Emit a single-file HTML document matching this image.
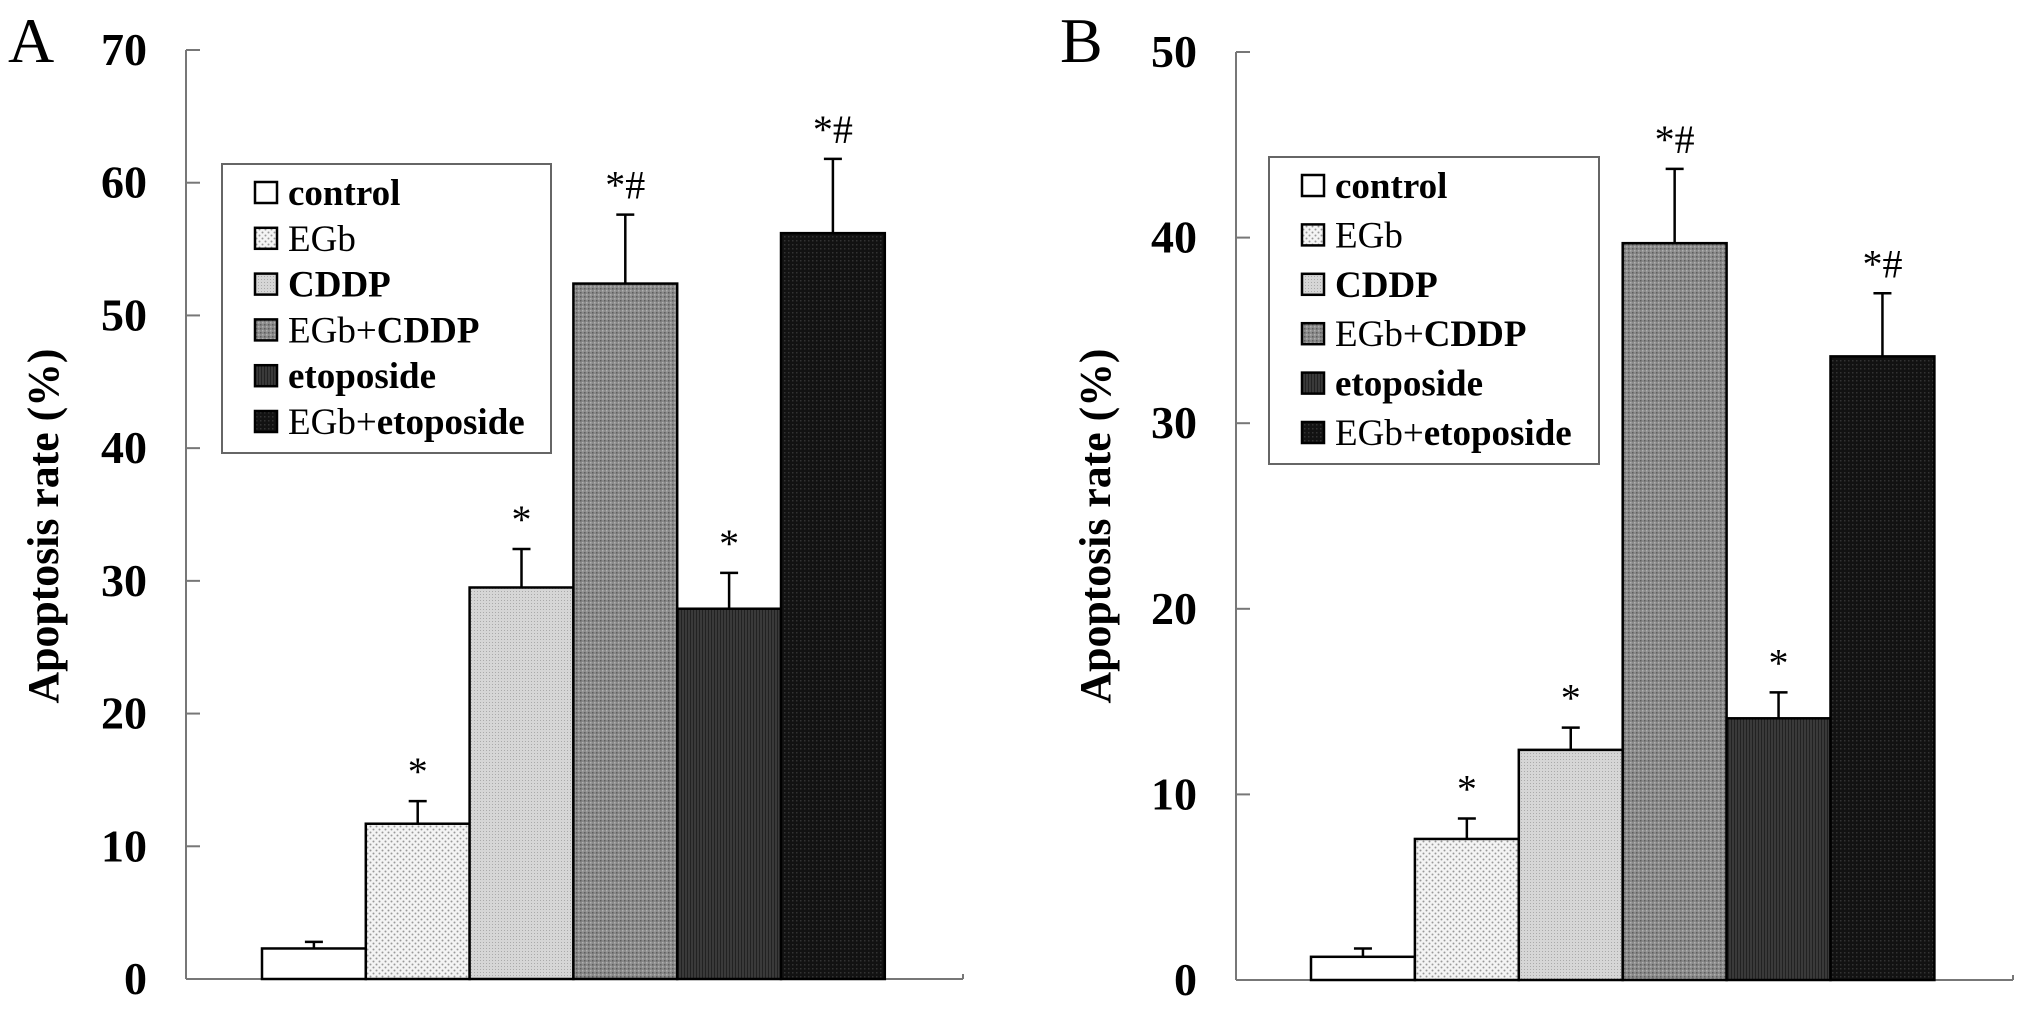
<!DOCTYPE html>
<html><head><meta charset="utf-8">
<style>
html,body{margin:0;padding:0;background:#fff;}
svg{display:block;}
text{font-family:"Liberation Serif",serif;fill:#000;}
</style></head>
<body>
<svg id="fig" width="2031" height="1011" viewBox="0 0 2031 1011" xmlns="http://www.w3.org/2000/svg">
<defs>
<pattern id="p1" width="6" height="6" patternUnits="userSpaceOnUse"><rect width="6" height="6" fill="#f4f4f4"/><circle cx="1.5" cy="1.5" r="1" fill="#999"/><circle cx="4.5" cy="4.5" r="1" fill="#999"/></pattern>
<pattern id="p2" width="3" height="3" patternUnits="userSpaceOnUse"><rect width="3" height="3" fill="#d6d6d6"/><rect width="1" height="1" fill="#aaa"/></pattern>
<pattern id="p3" width="4" height="4" patternUnits="userSpaceOnUse"><rect width="4" height="4" fill="#8a8a8a"/><rect width="1.5" height="1.5" fill="#5e5e5e"/><rect x="2" y="2" width="1.5" height="1.5" fill="#b0b0b0"/></pattern>
<pattern id="p4" width="3" height="3" patternUnits="userSpaceOnUse"><rect width="3" height="3" fill="#3a3a3a"/><rect width="1" height="3" fill="#222"/></pattern>
<pattern id="p5" width="4" height="4" patternUnits="userSpaceOnUse"><rect width="4" height="4" fill="#121212"/><rect width="1.5" height="1.5" fill="#333"/></pattern>
</defs>
<g id="root"></g>
</svg>
<script>
const categories = ["control","EGb","CDDP","EGb+CDDP","etoposide","EGb+etoposide"];
const valuesA = [2.3, 11.7, 29.5, 52.4, 27.9, 56.2];
const errorTopA = [2.8, 13.4, 32.4, 57.6, 30.6, 61.8];
const marksA = ["", "*", "*", "*#", "*", "*#"];
const ticksA = [0,10,20,30,40,50,60,70];
const valuesB = [1.25, 7.6, 12.4, 39.7, 14.1, 33.6];
const errorTopB = [1.7, 8.7, 13.6, 43.7, 15.5, 37.0];
const marksB = ["", "*", "*", "*#", "*", "*#"];
const ticksB = [0,10,20,30,40,50];

const fills = ["#fff","url(#p1)","url(#p2)","url(#p3)","url(#p4)","url(#p5)"];
const NS = "http://www.w3.org/2000/svg";
const root = document.getElementById('root');
function mk(tag, attrs, parent, txt){
  const e = document.createElementNS(NS, tag);
  for (const k in attrs) e.setAttribute(k, attrs[k]);
  if (txt !== undefined) e.textContent = txt;
  (parent||root).appendChild(e);
  return e;
}

function panel(cfg){
  const g = mk('g', {});
  
  
  const y = v => cfg.y0 - (v - 0) / cfg.max * (cfg.y0 - cfg.yTop);
  const x = i => cfg.barX0 + i * cfg.barW;
  const pl = mk('text', {x: cfg.letterX, y: 62, 'font-size': 64}, g, cfg.id);
  
  
  const ya = mk('line', {x1: cfg.axX, y1: y(cfg.max), x2: cfg.axX, y2: cfg.y0, stroke: '#777', 'stroke-width': 2}, g);
  
  
  const xa = mk('line', {x1: cfg.axX, y1: cfg.y0, x2: cfg.axEnd, y2: cfg.y0, stroke: '#777', 'stroke-width': 2}, g);
  
  
  mk('line', {x1: cfg.axEnd, y1: cfg.y0 - 5, x2: cfg.axEnd, y2: cfg.y0, stroke: '#777', 'stroke-width': 2}, g);
  cfg.ticks.forEach(t => {
    const tk = mk('line', {x1: cfg.axX, y1: y(t), x2: cfg.axX + 14, y2: y(t), stroke: '#777', 'stroke-width': 2}, g);
    
    
    const tl = mk('text', {x: cfg.tickRight, y: y(t) + 15, 'font-size': 46, 'font-weight': 'bold', 'text-anchor': 'end'}, g, String(t));
    
    
  });
  const yt = mk('text', {transform: 'translate(' + cfg.titleX + ',526) rotate(-90)', 'font-size': 44, 'font-weight': 'bold', 'text-anchor': 'middle', textLength: 355, lengthAdjust: 'spacingAndGlyphs'}, g, 'Apoptosis rate (%)');
  
  
  cfg.values.forEach((v, i) => {
    const cx = x(i) + cfg.barW / 2;
    const eb = mk('line', {x1: cx, y1: y(v), x2: cx, y2: y(cfg.err[i]), stroke: '#000', 'stroke-width': 2.5}, g);
    
    
    mk('line', {x1: cx - 9, y1: y(cfg.err[i]), x2: cx + 9, y2: y(cfg.err[i]), stroke: '#000', 'stroke-width': 2.5}, g);
    const b = mk('rect', {x: x(i), y: y(v), width: cfg.barW, height: cfg.y0 - y(v), fill: fills[i], stroke: '#000', 'stroke-width': 2.5}, g);
    
    
    if (cfg.marks[i]) {
      const m = mk('text', {x: cx, y: y(cfg.err[i]) - 16, 'font-size': 40, 'text-anchor': 'middle'}, g, cfg.marks[i]);
      
      
    }
  });
  const lg = mk('g', {}, g);
  
  
  mk('rect', {x: cfg.lg[0], y: cfg.lg[1], width: cfg.lg[2] - cfg.lg[0], height: cfg.lg[3] - cfg.lg[1], fill: '#fff', stroke: '#666', 'stroke-width': 2}, lg);
  const rowH = (cfg.lg[3] - cfg.lg[1] - 60) / 5;
  categories.forEach((c, i) => {
    const ry = cfg.lg[1] + 28 + i * rowH;
    const e = mk('g', {}, lg);
    
    
    mk('rect', {x: cfg.lg[0] + 33, y: ry - 10, width: 22, height: 21, fill: fills[i], stroke: '#000', 'stroke-width': 2.5}, e);
    const t = mk('text', {x: cfg.lg[0] + 66, y: ry + 13, 'font-size': 37}, e);
    const parts = {"control": [["control", 1]], "EGb": [["EGb", 0]], "CDDP": [["CDDP", 1]], "EGb+CDDP": [["EGb+", 0], ["CDDP", 1]], "etoposide": [["etoposide", 1]], "EGb+etoposide": [["EGb+", 0], ["etoposide", 1]]}[c];
    parts.forEach(p => mk('tspan', {'font-weight': p[1] ? 'bold' : 'normal'}, t, p[0]));
  });
}

panel({id: 'A', letterX: 8, axX: 186, axEnd: 963, y0: 979, yTop: 50, max: 70, ticks: ticksA, tickRight: 147, titleX: 58,
  barX0: 262, barW: 103.8, values: valuesA, err: errorTopA, marks: marksA, lg: [222, 164, 551, 453]});
panel({id: 'B', letterX: 1060, axX: 1236, axEnd: 2013, y0: 980, yTop: 52, max: 50, ticks: ticksB, tickRight: 1197, titleX: 1110,
  barX0: 1311, barW: 103.9, values: valuesB, err: errorTopB, marks: marksB, lg: [1269, 157, 1599, 464]});
</script>
</body></html>
